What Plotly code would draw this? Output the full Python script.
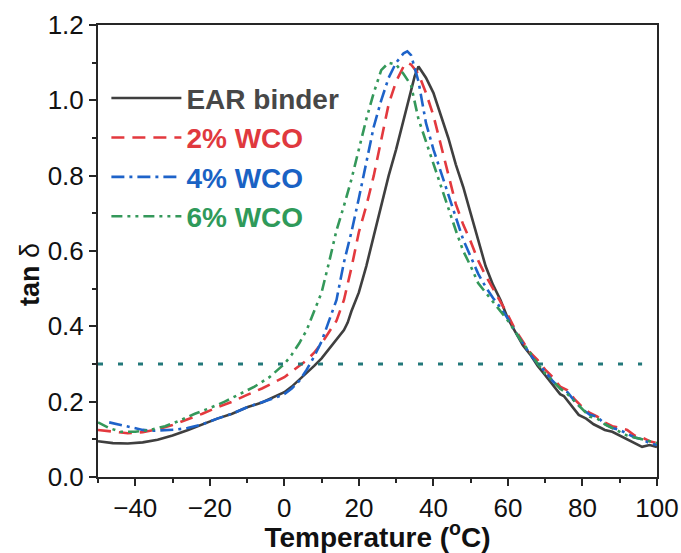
import plotly.graph_objects as go

# ---------------- data ----------------
EAR_T = [-50, -46, -42, -38, -34, -30, -26, -22, -18, -14, -10, -6, -2, 0, 2, 4, 6, 8, 10, 12,
         14, 16, 17, 18, 20, 22, 24, 26, 28, 30, 32, 34, 35, 36, 38, 40, 42, 44, 46, 48,
         50, 52, 54, 56, 58, 60, 62, 64, 66, 68, 70, 72, 74, 75, 77, 79, 81, 83, 85, 86,
         88, 90, 92, 94, 96, 98, 100]
EAR_Y = [0.095, 0.090, 0.089, 0.092, 0.099, 0.110, 0.124, 0.140, 0.155, 0.168, 0.185, 0.198, 0.215, 0.225, 0.240, 0.258, 0.275, 0.295, 0.315, 0.340,
         0.365, 0.390, 0.410, 0.440, 0.490, 0.560, 0.640, 0.720, 0.800, 0.870, 0.950, 1.030, 1.065, 1.090, 1.060, 1.020, 0.960, 0.900, 0.830, 0.770,
         0.700, 0.630, 0.560, 0.510, 0.470, 0.420, 0.385, 0.350, 0.325, 0.295, 0.270, 0.245, 0.220, 0.215, 0.190, 0.165, 0.155, 0.140, 0.130, 0.125,
         0.120, 0.110, 0.100, 0.090, 0.080, 0.085, 0.080]

WCO2_T = [-50, -46, -42, -38, -34, -30, -26, -22, -18, -14, -10, -6, -2, 0, 2, 4, 6, 8, 10, 12,
          14, 16, 18, 20, 22, 24, 26, 28, 30, 32, 33, 34, 36, 38, 40, 42, 44, 46, 48, 50,
          52, 54, 56, 58, 60, 62, 64, 66, 68, 70, 72, 74, 76, 78, 80, 82, 84, 86, 88, 90,
          92, 94, 96, 98, 100]
WCO2_Y = [0.125, 0.120, 0.116, 0.119, 0.127, 0.138, 0.152, 0.168, 0.185, 0.200, 0.218, 0.235, 0.255, 0.265, 0.280, 0.295, 0.310, 0.330, 0.355, 0.385,
          0.415, 0.470, 0.555, 0.650, 0.720, 0.800, 0.900, 0.990, 1.050, 1.090, 1.100, 1.095, 1.070, 1.020, 0.960, 0.880, 0.800, 0.725, 0.670, 0.625,
          0.575, 0.535, 0.500, 0.465, 0.430, 0.390, 0.360, 0.330, 0.310, 0.285, 0.265, 0.240, 0.230, 0.205, 0.185, 0.170, 0.160, 0.145, 0.135, 0.130,
          0.125, 0.110, 0.105, 0.095, 0.090]

WCO4_T = [-47, -44, -41, -38, -35, -32, -29, -26, -22, -18, -14, -10, -6, -2, 0, 2, 4, 6, 8, 10,
          12, 14, 16, 18, 20, 22, 24, 26, 28, 30, 32, 33, 34, 36, 38, 40, 42, 44, 46, 48,
          50, 52, 54, 56, 58, 60, 62, 64, 66, 68, 70, 72, 74, 76, 78, 80, 82, 84, 86, 88,
          90, 92, 94, 96, 98, 100]
WCO4_Y = [0.145, 0.138, 0.130, 0.125, 0.123, 0.124, 0.126, 0.130, 0.140, 0.155, 0.168, 0.185, 0.198, 0.212, 0.220, 0.235, 0.255, 0.285, 0.320, 0.360,
          0.415, 0.470, 0.570, 0.650, 0.740, 0.840, 0.930, 1.000, 1.060, 1.100, 1.125, 1.130, 1.120, 1.050, 0.940, 0.870, 0.810, 0.750, 0.690, 0.630,
          0.585, 0.540, 0.505, 0.475, 0.450, 0.420, 0.385, 0.355, 0.325, 0.300, 0.280, 0.255, 0.235, 0.225, 0.200, 0.180, 0.165, 0.160, 0.140, 0.130,
          0.125, 0.115, 0.105, 0.100, 0.090, 0.085]

WCO6_T = [-50, -47, -44, -40, -36, -32, -28, -24, -20, -16, -12, -8, -4, 0, 2, 4, 6, 8, 10, 12,
          14, 16, 18, 20, 22, 24, 26, 28, 30, 32, 34, 36, 38, 40, 42, 44, 46, 48, 50, 52,
          54, 56, 58, 60, 62, 64, 66, 68, 70, 72, 74, 76, 78, 80, 82, 84, 86, 88, 90, 92,
          94, 96, 98, 100]
WCO6_Y = [0.145, 0.130, 0.120, 0.120, 0.125, 0.135, 0.150, 0.168, 0.183, 0.200, 0.220, 0.240, 0.265, 0.300, 0.325, 0.355, 0.390, 0.440, 0.490, 0.570,
          0.655, 0.720, 0.790, 0.870, 0.950, 1.020, 1.080, 1.100, 1.095, 1.070, 1.040, 0.950, 0.890, 0.830, 0.775, 0.715, 0.655, 0.600, 0.560, 0.515,
          0.490, 0.465, 0.440, 0.415, 0.385, 0.355, 0.330, 0.300, 0.275, 0.255, 0.235, 0.220, 0.200, 0.180, 0.160, 0.155, 0.140, 0.130, 0.120, 0.110,
          0.105, 0.100, 0.095, 0.090]

REF_T = [-50, 96]
REF_Y = [0.3, 0.3]

SERIES_NAMES = ["EAR binder", "2% WCO", "4% WCO", "6% WCO"]
X_TICKS = [-40, -20, 0, 20, 40, 60, 80, 100]
X_TICK_TEXT = ["\u221240", "\u221220", "0", "20", "40", "60", "80", "100"]
Y_TICKS = [0.0, 0.2, 0.4, 0.6, 0.8, 1.0, 1.2]
Y_TICK_TEXT = ["0.0", "0.2", "0.4", "0.6", "0.8", "1.0", "1.2"]
Y_TITLE = "<b>tan</b> \u03b4"
X_TITLE = "<b>Temperature (<sup>o</sup>C)</b>"

# ---------------- styles ----------------
COLORS = ["#3f3f3f", "#e3393e", "#1e63c9", "#34985a"]
TEXT_COLORS = ["#474747", "#e0393e", "#1a62c4", "#2f9a5a"]
DASHES = ["solid", "13px,8px", "13px,5px,3px,5px", "11px,5px,3px,5px,3px,5px"]
FONT = "Liberation Sans, Arial, sans-serif"

fig = go.Figure()
for T, Y, name, c, tc, d in zip([EAR_T, WCO2_T, WCO4_T, WCO6_T],
                                [EAR_Y, WCO2_Y, WCO4_Y, WCO6_Y],
                                SERIES_NAMES, COLORS, TEXT_COLORS, DASHES):
    fig.add_trace(go.Scatter(
        x=T, y=Y, mode="lines",
        name=f"<b><span style='color:{tc}'>{name}</span></b>",
        legendgroup=name,
        line=dict(color=c, width=2.6, dash=d),
    ))

fig.add_trace(go.Scatter(
    x=REF_T, y=REF_Y, mode="lines", showlegend=False, hoverinfo="skip",
    line=dict(color="#22787a", width=3, dash="5px,15px"),
))

axis_common = dict(
    showline=True, linecolor="#262626", linewidth=2, mirror=True,
    ticks="outside", ticklen=7, tickwidth=1.5, tickcolor="#262626",
    showgrid=False, zeroline=False, automargin=False,
    tickfont=dict(family=FONT, size=26, color="#111111"),
)

fig.update_xaxes(
    range=[-50, 100], tickvals=X_TICKS, ticktext=X_TICK_TEXT,
    minor=dict(dtick=10, ticks="outside", ticklen=4, tickwidth=1.5, tickcolor="#262626"),
    title=dict(text=X_TITLE, standoff=8,
               font=dict(family=FONT, size=28, color="#111111")),
    **axis_common,
)
fig.update_yaxes(
    range=[0, 1.2], tickvals=Y_TICKS, ticktext=Y_TICK_TEXT,
    minor=dict(dtick=0.1, ticks="outside", ticklen=4, tickwidth=1.5, tickcolor="#262626"),
    **axis_common,
)

fig.add_annotation(
    text=Y_TITLE, textangle=-90, showarrow=False,
    xref="paper", yref="paper", x=-0.1216, y=0.447,
    xanchor="center", yanchor="middle",
    font=dict(family=FONT, size=27, color="#111111"),
)

fig.update_layout(
    width=681, height=553,
    margin=dict(l=98, r=24, t=25, b=76),
    paper_bgcolor="white", plot_bgcolor="white",
    showlegend=True,
    legend=dict(
        x=0.015, y=0.893, xanchor="left", yanchor="top",
        bgcolor="rgba(0,0,0,0)", borderwidth=0,
        font=dict(family=FONT, size=28),
        itemwidth=70, tracegroupgap=0, traceorder="grouped",
    ),
)

fig.write_html("out.html")
